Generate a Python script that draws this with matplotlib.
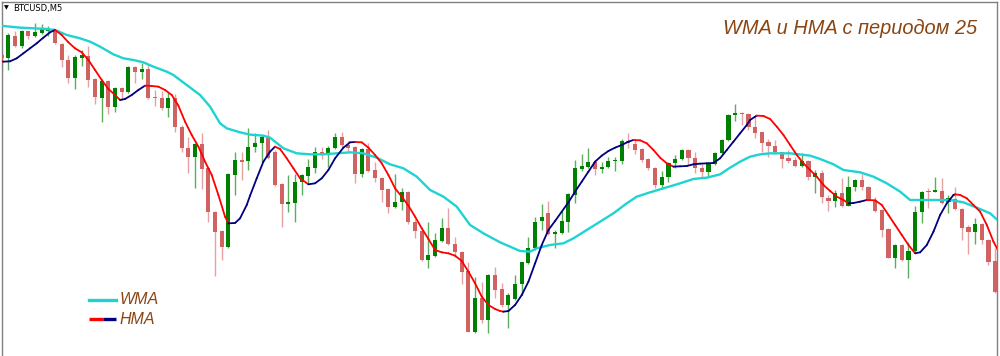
import numpy as np
import matplotlib.pyplot as plt
from matplotlib.collections import LineCollection
from matplotlib.lines import Line2D

# candle data (arbitrary price units, BTCUSD M5)
opens = [880, 870, 938, 908, 952, 938, 945, 952, 955, 912,
         865, 810, 872, 878, 808, 752, 802, 725, 782, 770,
         845, 828, 838, 755, 750, 720, 752, 665, 602, 575,
         612, 540, 410, 352, 303, 520, 565, 562, 605, 615,
         635, 588, 492, 432, 435, 498, 518, 542, 590, 580,
         602, 635, 610, 605, 522, 598, 535, 512, 478, 425,
         438, 470, 378, 352, 265, 278, 322, 360, 312, 290,
         232, 50, 152, 85, 220, 178, 130, 148, 192, 255,
         300, 382, 405, 342, 345, 380, 460, 538, 545, 558,
         538, 545, 562, 562, 622, 612, 598, 568, 542, 490,
         515, 555, 568, 595, 572, 540, 530, 552, 585, 625,
         700, 705, 702, 665, 648, 618, 608, 588, 570, 565,
         548, 562, 515, 525, 452, 442, 465, 428, 485, 505,
         485, 445, 415, 358, 272, 310, 265, 292, 408, 472,
         470, 472, 438, 448, 418, 365, 348, 372, 325, 262]
closes = [870, 940, 908, 952, 938, 948, 958, 958, 915, 865,
          810, 875, 880, 805, 755, 802, 725, 782, 770, 845,
          828, 838, 750, 750, 720, 752, 665, 600, 575, 612,
          538, 408, 350, 303, 522, 565, 560, 605, 617, 635,
          572, 490, 432, 438, 500, 520, 545, 590, 580, 602,
          635, 610, 602, 522, 598, 532, 510, 475, 425, 438,
          470, 378, 352, 265, 280, 325, 360, 312, 290, 230,
          50, 152, 85, 220, 175, 130, 160, 192, 258, 302,
          380, 395, 342, 348, 382, 462, 540, 548, 560, 538,
          545, 562, 565, 622, 615, 595, 565, 540, 490, 515,
          555, 568, 595, 572, 540, 530, 552, 585, 625, 700,
          705, 702, 665, 645, 615, 608, 588, 568, 562, 548,
          562, 515, 525, 455, 442, 465, 428, 485, 505, 485,
          445, 412, 355, 272, 310, 265, 292, 410, 470, 468,
          475, 435, 450, 418, 362, 348, 372, 325, 260, 168]
highs = [892, 945, 952, 955, 955, 975, 972, 968, 958, 915,
         880, 880, 895, 908, 810, 805, 805, 785, 785, 848,
         848, 855, 852, 775, 772, 768, 762, 670, 635, 615,
         645, 545, 412, 355, 525, 590, 590, 660, 645, 640,
         655, 595, 495, 520, 522, 522, 568, 605, 605, 608,
         645, 648, 622, 607, 602, 615, 558, 515, 482, 522,
         482, 472, 388, 355, 378, 345, 390, 420, 335, 292,
         260, 215, 200, 222, 245, 195, 165, 220, 260, 335,
         395, 432, 442, 355, 412, 465, 565, 582, 602, 565,
         560, 575, 575, 628, 645, 625, 602, 570, 545, 532,
         560, 580, 598, 598, 590, 552, 560, 590, 628, 702,
         732, 710, 705, 695, 650, 628, 625, 590, 595, 575,
         585, 565, 535, 535, 460, 475, 510, 518, 508, 522,
         488, 455, 417, 360, 312, 312, 320, 428, 472, 480,
         515, 512, 460, 485, 420, 370, 392, 375, 328, 300]
lows = [830, 835, 905, 900, 928, 935, 943, 938, 912, 845,
        795, 778, 848, 785, 732, 678, 702, 708, 745, 765,
        795, 808, 748, 728, 715, 695, 648, 588, 525, 480,
        478, 380, 218, 265, 300, 460, 505, 535, 590, 560,
        568, 488, 365, 410, 380, 460, 495, 525, 568, 545,
        598, 605, 588, 495, 515, 528, 500, 440, 405, 422,
        415, 372, 332, 262, 240, 275, 320, 310, 275, 192,
        50, 45, 75, 45, 150, 125, 60, 145, 160, 252,
        295, 355, 340, 300, 342, 348, 435, 532, 542, 520,
        525, 540, 532, 552, 602, 582, 560, 535, 482, 478,
        500, 542, 565, 550, 525, 512, 512, 550, 580, 622,
        682, 670, 655, 632, 588, 575, 582, 542, 555, 545,
        545, 505, 465, 435, 412, 425, 425, 428, 472, 475,
        442, 410, 335, 270, 242, 262, 210, 288, 375, 422,
        468, 432, 405, 415, 325, 282, 312, 312, 250, 165]

# WMA(25) samples: bar position, value
wma_x = [-0.25, 2.75, 4.75, 6.75, 8, 9.75, 11.75, 13.25, 14.75, 16.75,
         18.25, 19.75, 21.25, 22.75, 24.75, 25.75, 27.75, 29.75, 31.25, 32.75,
         33.75, 35.75, 37.25, 39.25, 40.25, 42.25, 44.25, 46.25, 48.25, 50.25,
         52.25, 54.25, 56.25, 58.25, 60.25, 62.25, 64.25, 66.25, 68.25, 70.25,
         72.25, 74.75, 76.25, 77.75, 79.25, 80.25, 82.25, 84.25, 85.75, 87.75,
         89.75, 91.75, 93.75, 95.25, 97.25, 99.25, 101.75, 103.75, 105.75, 107.75,
         109.25, 110.75, 112.25, 113.75, 115.25, 118.25, 121.25, 122.75, 124.75, 126.25,
         128.75, 130.75, 132.75, 134.75, 136.25, 139.25, 142.25, 144.25, 146.25, 148.25,
         149.75]
wma_y = [968, 962, 960, 958, 955, 940, 930, 920, 905, 882,
         870, 865, 858, 845, 830, 820, 790, 760, 725, 675,
         660, 648, 641, 638, 632, 600, 585, 582, 582, 585,
         588, 585, 572, 552, 540, 515, 475, 455, 425, 370,
         345, 318, 305, 292, 290, 300, 310, 315, 330, 355,
         380, 405, 435, 455, 468, 480, 495, 508, 512, 522,
         542, 560, 575, 582, 585, 585, 578, 568, 552, 535,
         528, 515, 495, 470, 445, 445, 445, 438, 422, 405,
         378]

# HMA(25) samples: bar position, value
hma_x = [-0.25, 0.25, 1.25, 2.25, 3.25, 4.25, 5.25, 6.25, 7.25, 8,
         9, 10, 11, 12, 13, 14, 15, 16, 17, 17.75,
         18.5, 19.5, 20.5, 21.5, 22.5, 23.5, 24.5, 25.5, 26.5, 27.5,
         28.5, 29.5, 30.5, 31.5, 32.5, 33.5, 34, 35, 35.75, 36.75,
         37.25, 38.25, 39.25, 40.25, 41, 41.75, 42.75, 43.75, 44.75, 46,
         47, 48, 49, 50, 51.25, 52.25, 53, 54, 55, 56,
         57, 58, 59, 60, 61, 62, 63, 64, 65, 66,
         67, 68, 69, 70, 71, 72, 73, 74, 74.75, 75.25,
         76, 77, 78, 79, 80, 81, 82, 83, 84, 85,
         86, 87, 88, 89, 90, 91, 92, 93, 94, 94.75,
         95.75, 96.75, 97.75, 98.75, 99.75, 100.75, 101.75, 102.75, 103.75, 104.75,
         105.75, 106.75, 107.75, 108.75, 109.75, 110.75, 111.75, 112.25, 113, 113.25,
         114.25, 115.25, 116.25, 117.25, 118.25, 119.25, 120.25, 121.25, 122.25, 123.25,
         124.25, 125.25, 126.25, 127, 127.75, 128.75, 129.75, 131, 132, 133,
         134, 135, 136, 137, 137.75, 138.75, 139.75, 140.75, 141.75, 142.75,
         143, 143.75, 144.75, 145.75, 146.75, 147.75, 148.75, 149.75]
hma_y = [862, 860, 861, 870, 885, 900, 915, 932, 948, 955,
         940, 918, 900, 888, 865, 835, 805, 778, 760, 745,
         748, 760, 775, 788, 787, 785, 775, 760, 728, 680,
         640, 605, 560, 520, 460, 395, 375, 376, 390, 430,
         458, 510, 560, 590, 605, 598, 570, 540, 510, 492,
         495, 510, 535, 570, 602, 618, 619, 618, 602, 580,
         555, 520, 480, 455, 428, 395, 360, 328, 295, 288,
         285, 278, 262, 230, 195, 155, 130, 118, 112, 110,
         112, 130, 160, 200, 255, 310, 355, 382, 410, 438,
         470, 500, 530, 560, 578, 592, 602, 610, 620, 625,
         624, 615, 595, 572, 555, 545, 546, 547, 552, 554,
         555, 556, 570, 595, 620, 645, 670, 685, 695, 698,
         697, 688, 665, 640, 610, 580, 555, 535, 515, 490,
         472, 455, 445, 435, 436, 440, 445, 444, 430, 400,
         370, 340, 310, 285, 288, 310, 350, 400, 435, 460,
         462, 460, 450, 430, 410, 370, 320, 282]

BULL = '#008000'
BULL_WICK = '#5cae5c'
BEAR = '#d06262'
BEAR_WICK = '#e6a2a2'


def main():
    fig = plt.figure(figsize=(10, 3.56), dpi=100)
    fig.patch.set_facecolor('white')
    ax = fig.add_axes([0.0015, 0.0, 0.9955, 0.995])

    idx = np.arange(len(opens))
    o = np.array(opens)
    c = np.array(closes)
    up = c >= o

    wick_cols = [BULL_WICK if u else BEAR_WICK for u in up]
    body_cols = [BULL if u else BEAR for u in up]
    ax.vlines(idx, lows, highs, colors=wick_cols, lw=1.0, zorder=2)
    ax.bar(idx, np.maximum(np.abs(c - o), 3), bottom=np.minimum(o, c),
           width=0.62, color=body_cols, lw=0, zorder=3)

    ax.plot(wma_x, wma_y, color='#1fd3d3', lw=1.7, zorder=4,
            solid_capstyle='round')

    # HMA coloured by direction: red falling, navy rising
    pts = np.column_stack([hma_x, hma_y])
    segs = np.stack([pts[:-1], pts[1:]], axis=1)
    cols = ['#000080' if b > a else '#ff0000'
            for a, b in zip(hma_y[:-1], hma_y[1:])]
    ax.add_collection(LineCollection(segs, colors=cols, lw=1.3, zorder=5,
                                     capstyle='round', joinstyle='round'))

    ax.set_xlim(-0.03, 149.28)
    ax.set_ylim(-23, 1039.6)
    ax.set_xticks([])
    ax.set_yticks([])
    for side in ['left', 'top', 'right']:
        ax.spines[side].set_color('#808080')
        ax.spines[side].set_linewidth(1.0)
    ax.spines['bottom'].set_visible(False)

    # header
    fig.text(0.0035, 0.978, '\u25bc', fontsize=4.5, color='black',
             ha='left', va='center')
    fig.text(0.0135, 0.977, 'BTCUSD,M5', fontsize=6, color='black',
             ha='left', va='center', family='DejaVu Sans')

    brown = '#8b4513'
    fig.text(0.977, 1 - 28.5 / 356, 'WMA и HMA с периодом 25', fontsize=14.4,
             color=brown, style='italic', family='Liberation Sans',
             ha='right', va='center')

    # legend
    y1 = 1 - 300 / 356
    y2 = 1 - 319 / 356
    fig.add_artist(Line2D([0.089, 0.116], [y1, y1], color='#1fd3d3', lw=2.4))
    fig.add_artist(Line2D([0.089, 0.1025], [y2, y2], color='#ff0000', lw=2.4,
                          solid_capstyle='butt'))
    fig.add_artist(Line2D([0.1025, 0.116], [y2, y2], color='#000080', lw=2.4,
                          solid_capstyle='butt'))
    fig.text(0.120, y1, 'WMA', fontsize=11.5, color=brown, style='italic',
             family='Liberation Sans', ha='left', va='center')
    fig.text(0.120, y2, 'HMA', fontsize=11.5, color=brown, style='italic',
             family='Liberation Sans', ha='left', va='center')

    fig.savefig('out.png', dpi=100, facecolor='white')
    plt.close(fig)


if __name__ == '__main__':
    main()
